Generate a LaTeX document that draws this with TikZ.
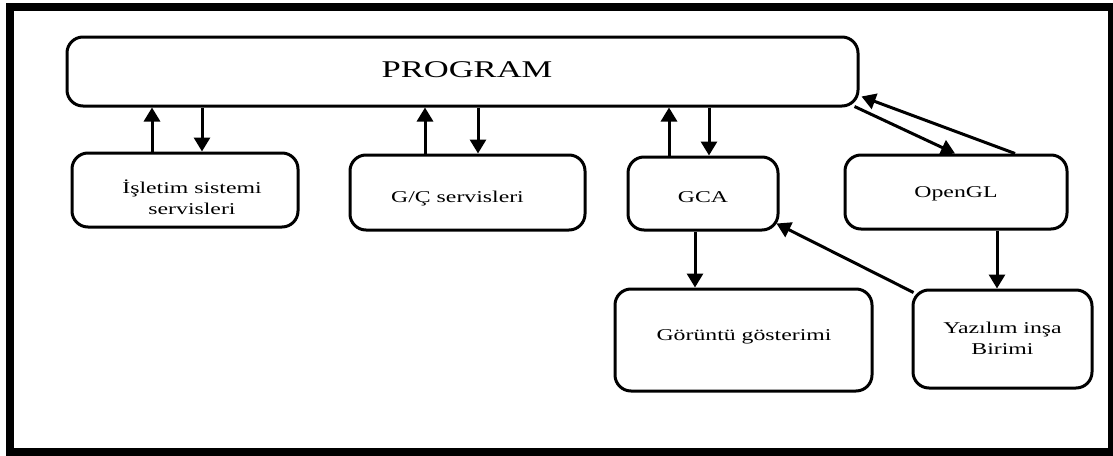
\documentclass[tikz,border=0pt]{standalone}
\usepackage{fontspec}
\setmainfont{Liberation Serif}
\usepackage{graphicx}
\usetikzlibrary{arrows.meta,calc}
\newcommand{\hstretch}[1]{\scalebox{1.44}[1]{#1}}
\begin{document}
\begin{tikzpicture}[x=1pt,y=-1pt,
  boxnode/.style={draw, line width=3pt, rounded corners=16pt, inner sep=0pt},
  txt/.style={inner sep=0pt, font=\fontsize{16.5}{20.5}\selectfont},
  arr/.style={line width=3pt, -{Triangle[width=16pt,length=14pt]}},
]
\useasboundingbox (0,0) rectangle (1113,455);
\draw[line width=8pt] (10,7) rectangle (1112,452);

% boxes
\node[boxnode, minimum width=791pt, minimum height=69pt] (prog) at (462.5,71.5) {};
\node[boxnode, minimum width=226pt, minimum height=74pt] (isl) at (185,190) {};
\node[boxnode, minimum width=235pt, minimum height=75pt] (gc) at (467.5,192.5) {};
\node[boxnode, minimum width=150pt, minimum height=73pt] (gca) at (703,193.5) {};
\node[boxnode, minimum width=222pt, minimum height=74pt] (ogl) at (956,192) {};
\node[boxnode, minimum width=257pt, minimum height=102pt] (gor) at (743.5,340) {};
\node[boxnode, minimum width=179pt, minimum height=98pt] (yaz) at (1002.5,339) {};

% texts
\node[txt, font=\fontsize{24}{28}\selectfont] (progT) at ($(prog.center)+(4.5,-1.5)$) {\hstretch{PROGRAM}};
\node[txt] (islT) at ($(isl.center)+(7,10)$) {\hstretch{\begin{tabular}{@{}c@{}}İşletim sistemi\\servisleri\end{tabular}}};
\node[txt] (gcT) at ($(gc.center)+(-10,6.5)$) {\hstretch{G/Ç servisleri}};
\node[txt] (gcaT) at ($(gca.center)+(0,4)$) {\hstretch{GCA}};
\node[txt] (oglT) at ($(ogl.center)+(0,2)$) {\hstretch{OpenGL}};
\node[txt] (gorT) at ($(gor.center)+(0.5,-3.5)$) {\hstretch{Görüntü gösterimi}};
\node[txt] (yazT) at ($(yaz.center)+(0,1)$) {\hstretch{\begin{tabular}{@{}c@{}}Yazılım inşa\\Birimi\end{tabular}}};

% x positions for vertical connectors
\coordinate (xa) at (152,0);
\coordinate (xb) at (202,0);
\coordinate (xc) at (425,0);
\coordinate (xd) at (478,0);
\coordinate (xe) at (669,0);
\coordinate (xf) at (709,0);
\coordinate (xg) at (695,0);
\coordinate (xh) at (997,0);

% vertical connectors
\draw[arr] (isl.north -| xa) -- (prog.south -| xa);
\draw[arr] (prog.south -| xb) -- (isl.north -| xb);
\draw[arr] (gc.north -| xc) -- (prog.south -| xc);
\draw[arr] (prog.south -| xd) -- (gc.north -| xd);
\draw[arr] (gca.north -| xe) -- (prog.south -| xe);
\draw[arr] (prog.south -| xf) -- (gca.north -| xf);
\draw[arr] (gca.south -| xg) -- (gor.north -| xg);
\draw[arr] (ogl.south -| xh) -- (yaz.north -| xh);

% diagonal connectors
\draw[arr] ($(ogl.north)+(59,0)$) -- ($(prog.south east)+(2,-11)$);
\draw[arr] ($(prog.south east)+(-5,-1)$) -- ($(ogl.north)+(-1,0)$);
\draw[arr] ($(yaz.north west)+(2,4)$) -- ($(gca.south east)+(-3,-8)$);
\end{tikzpicture}
\end{document}
